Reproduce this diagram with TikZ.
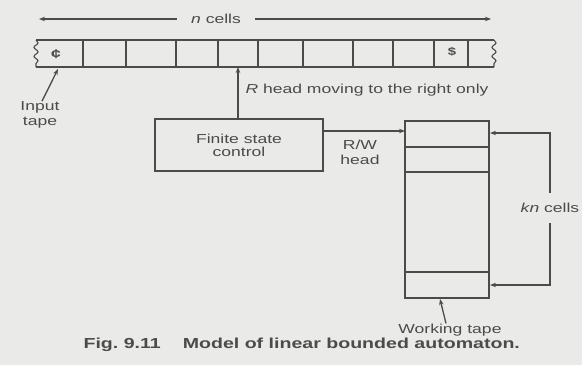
\documentclass[tikz,border=0pt]{standalone}
\usepackage{fontspec}
\setmainfont[FakeStretch=1.35]{Liberation Sans}
\usetikzlibrary{arrows.meta,decorations.pathmorphing}
\definecolor{paper}{RGB}{234,234,232}
\definecolor{ink}{RGB}{75,75,75}
\tikzset{
  arr/.style={-{Stealth[length=6pt,width=4.5pt]}},
  lbl/.style={inner sep=0pt, align=center, text=ink},
  box/.style={draw=ink, line width=1.1pt, minimum width=168pt, minimum height=52pt, align=center, text=ink},
  wavy/.style={decorate, decoration={snake, amplitude=2pt, segment length=9pt}},
}
\begin{document}
\begin{tikzpicture}[x=1pt,y=-1pt, line width=1.1pt, draw=ink, font=\fontsize{13}{15}\selectfont]
\fill[paper] (0,0) rectangle (582,365);
\useasboundingbox (0,0) rectangle (582,365);
% input tape
\draw[ink] (36,40) -- (494,40);
\draw[ink] (36,67) -- (494,67);
\draw[ink, wavy] (36,40) -- (36,67);
\draw[ink, wavy] (494,40) -- (494,67);
\foreach \x in {83,126,176,218,258,303,353,393,434,468}
  \draw[ink] (\x,40) -- (\x,67);
\node[lbl] (cent) at (56,54) {\textbf{¢}};
\node[lbl] (dol) at (452,52) {\fontsize{11}{13}\selectfont\textbf{\$}};
% n cells
\node[lbl, inner xsep=14pt] (nc) at (216,19) {\textit{n} cells};
\coordinate (nl) at (39,19);
\coordinate (nr) at (491,19);
\draw[ink, arr] (nc.west) -- (nl);
\draw[ink, arr] (nc.east) -- (nr);
% input tape label
\node[lbl] (inp) at (40,115) {Input\\[0pt]tape};
\coordinate (inpt) at (58,69);
\draw[ink, line width=1.3pt, arr] ([xshift=2pt]inp.north) -- (inpt);
% finite state control
\node[box] (fsc) at (239,145) {Finite state\\[-2pt]control};
\coordinate (rh) at (238,67);
\draw[ink, arr] (fsc.north -| rh) -- (rh);
\node[lbl, anchor=west] (rhl) at (245,90) {\textit{R} head moving to the right only};
% working tape
\coordinate (wt1) at (405,121);
\coordinate (wt2) at (489,298);
\draw[ink] (wt1) rectangle (wt2);
\foreach \y in {147,172,272}
  \draw[ink] (405,\y) -- (489,\y);
\coordinate (wtin) at (405,131);
\draw[ink, arr] (fsc.east |- wtin) -- (wtin);
\node[lbl] (rw) at (360,152) {R/W\\[0pt]head};
% kn cells
\node[lbl] (kn) at (550,208) {\textit{kn} cells};
\coordinate (kt) at (490,133);
\coordinate (kb) at (490,285);
\coordinate (kt0) at (550,193);
\coordinate (kb0) at (550,223);
\draw[ink, arr] (kt0) |- (kt);
\draw[ink, arr] (kb0) |- (kb);
% working tape label
\node[lbl] (wtl) at (450,330) {Working tape};
\coordinate (wtp) at (440,299);
\draw[ink, line width=1.3pt, arr] ([xshift=-4pt]wtl.north) -- (wtp);
% caption
\node[lbl, anchor=west] (cap) at (83,345) {\fontsize{14.5}{16}\selectfont\textbf{Fig.\ 9.11\hspace{22pt}Model of linear bounded automaton.}};
\end{tikzpicture}
\end{document}
